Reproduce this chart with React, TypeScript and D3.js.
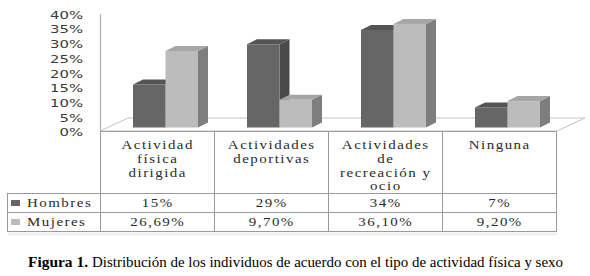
import React from "react";
import * as d3 from "d3";

const categories: string[][] = [
  ["Actividad", "física", "dirigida"],
  ["Actividades", "deportivas"],
  ["Actividades", "de", "recreación y", "ocio"],
  ["Ninguna"],
];
const seriesNames = ["Hombres", "Mujeres"];
const hombres = [15, 29, 34, 7];
const mujeres = [26.69, 9.7, 36.1, 9.2];
const hombresLabels = ["15%", "29%", "34%", "7%"];
const mujeresLabels = ["26,69%", "9,70%", "36,10%", "9,20%"];
const yTicks = [0, 5, 10, 15, 20, 25, 30, 35, 40];
const captionBold = "Figura 1.";
const captionText = "Distribución de los individuos de acuerdo con el tipo de actividad física y sexo";

const W = 590;
const H = 276;
const colors = {
  Hombres: { front: "#666666", top: "#555555", side: "#4a4a4a", legend: "#666666" },
  Mujeres: { front: "#bcbcbc", top: "#a6a6a6", side: "#7e7e7e", legend: "#bcbcbc" },
};

export default function App() {
  const keys = categories.map((c) => c.join(" "));
  const x = d3.scaleBand<string>().domain(keys).range([100, 556]);
  const sub = d3.scaleBand<string>().domain(seriesNames).range([33, 98]);
  const y = d3.scaleLinear().domain([0, 40]).range([127.5, 12.7]);
  const yLab = d3.scaleLinear().domain([0, 40]).range([132.5, 15]);
  const dx = 10;
  const dy = -5;
  const base = y(0);
  const bw = sub.bandwidth();

  const serif = "'Liberation Serif', 'Times New Roman', serif";
  const sans = "'DejaVu Sans', Verdana, sans-serif";
  const ls = 1.3;
  const sx = 1.15;
  const fs = 13;
  const tcol = "#2a2a2a";

  const tProps = {
    dominantBaseline: "central" as const,
    fontFamily: serif,
    fontSize: fs,
    fill: tcol,
    letterSpacing: ls,
  };

  const bars: JSX.Element[] = [];
  categories.forEach((c, i) => {
    const key = keys[i];
    [hombres[i], mujeres[i]].forEach((v, j) => {
      const name = seriesNames[j] as "Hombres" | "Mujeres";
      const col = colors[name];
      const bx = (x(key) as number) + (sub(name) as number);
      const top = y(v);
      bars.push(
        <g key={`${i}-${j}`}>
          <polygon
            points={`${bx + bw},${top} ${bx + bw + dx},${top + dy} ${bx + bw + dx},${base + dy} ${bx + bw},${base}`}
            fill={col.side}
          />
          <polygon
            points={`${bx},${top} ${bx + dx},${top + dy} ${bx + bw + dx},${top + dy} ${bx + bw},${top}`}
            fill={col.top}
          />
          <rect x={bx} y={top} width={bw} height={base - top} fill={col.front} />
        </g>
      );
    });
  });

  const lineColor = "#9a9a9a";
  const rows = [193, 212, 231];

  const cellText = (cx: number, cy: number, s: string, key: string | number) => (
    <text key={key} transform={`translate(${cx},${cy}) scale(${sx},1)`} x={ls / 2} textAnchor="middle" {...tProps}>
      {s}
    </text>
  );

  return (
    <svg width={W} height={H} style={{ position: "absolute", left: 0, top: 0, background: "#fff" }}>
      <rect x={0} y={0} width={W} height={H} fill="#fff" />
      {/* floor */}
      <polygon points="100,131 128,118 585,118 557,131" fill="#fff" stroke="#c4c4c4" strokeWidth={1} />
      {/* y axis line */}
      <line x1={100.5} y1={14} x2={100.5} y2={131} stroke="#b0b0b0" strokeWidth={1.2} />
      {/* y tick labels */}
      {yTicks.map((t) => (
        <text
          key={t}
          transform={`translate(83,${yLab(t)}) scale(1.35,1)`}
          textAnchor="end"
          dominantBaseline="central"
          fontFamily={sans}
          fontSize={11}
          fill="#3a3a3a"
        >
          {t}%
        </text>
      ))}
      {bars}
      {/* table */}
      <g stroke={lineColor} strokeWidth={1}>
        <line x1={100} y1={131.5} x2={557} y2={131.5} />
        {keys.map((k) => (
          <line key={k} x1={(x(k) as number) + 0.5} y1={131} x2={(x(k) as number) + 0.5} y2={231} />
        ))}
        <line x1={556.5} y1={131} x2={556.5} y2={231} />
        <line x1={7.5} y1={193} x2={7.5} y2={231} />
        {rows.map((r) => (
          <line key={r} x1={7} y1={r + 0.5} x2={557} y2={r + 0.5} />
        ))}
      </g>
      <line x1={8} y1={234} x2={557} y2={234} stroke="#f0f0f0" strokeWidth={3} />
      {categories.map((c, i) => {
        const cx = (x(keys[i]) as number) + x.bandwidth() / 2;
        return (
          <g key={i}>
            {c.map((line, li) => cellText(cx, 145 + li * 13.7, line, li))}
            {cellText(cx, 203, hombresLabels[i], "h")}
            {cellText(cx, 222, mujeresLabels[i], "m")}
          </g>
        );
      })}
      {/* legend cells */}
      {seriesNames.map((s, j) => {
        const cy = j === 0 ? 203 : 222;
        const col = colors[s as "Hombres" | "Mujeres"];
        return (
          <g key={s}>
            <rect x={11} y={cy - 3} width={9} height={6} fill={col.legend} />
            <text transform={`translate(27,${cy}) scale(${sx},1)`} textAnchor="start" {...tProps}>
              {s}
            </text>
          </g>
        );
      })}
      {/* caption */}
      <text x={28} y={262} dominantBaseline="central" fontFamily={serif} fontSize={15} fontWeight="bold" fill="#000" textLength={60} lengthAdjust="spacingAndGlyphs">
        {captionBold}
      </text>
      <text x={92} y={262} dominantBaseline="central" fontFamily={serif} fontSize={15} fill="#000" textLength={471} lengthAdjust="spacingAndGlyphs">
        {captionText}
      </text>
    </svg>
  );
}
